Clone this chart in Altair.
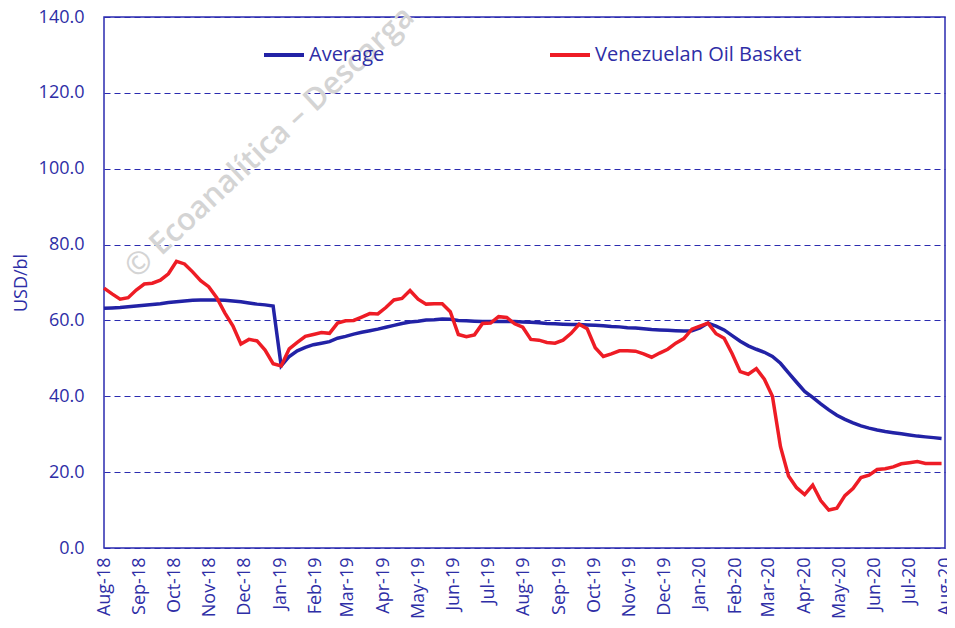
import altair as alt
import pandas as pd

# Weekly observations, Aug-2018 .. Jul-2020
weeks = pd.date_range("2018-08-01", periods=105, freq="7D").strftime("%Y-%m-%d").tolist()

average = [
    63.2, 63.3, 63.4, 63.6, 63.8, 64.0, 64.2, 64.4, 64.7, 64.9, 65.1, 65.3, 65.4, 65.4,
    65.4, 65.3, 65.1, 64.9, 64.6, 64.3, 64.1, 63.8, 48.0, 50.5, 52.0, 52.9, 53.6, 54.0,
    54.4, 55.3, 55.8, 56.4, 56.9, 57.3, 57.7, 58.2, 58.7, 59.2, 59.6, 59.8, 60.1, 60.2,
    60.4, 60.3, 60.0, 59.9, 59.8, 59.7, 59.7, 59.7, 59.7, 59.7, 59.6, 59.5, 59.4, 59.2,
    59.1, 59.0, 58.9, 58.9, 58.8, 58.7, 58.6, 58.4, 58.3, 58.1, 58.0, 57.8, 57.6, 57.5,
    57.4, 57.3, 57.2, 57.3, 58.0, 59.3, 58.5, 57.5, 56.0, 54.5, 53.3, 52.4, 51.6, 50.5,
    48.7, 46.2, 43.7, 41.3, 39.7, 38.0, 36.4, 35.0, 33.9, 33.0, 32.2, 31.6, 31.1, 30.7,
    30.4, 30.1, 29.8, 29.5, 29.3, 29.1, 28.9,
]

basket = [
    68.5, 67.0, 65.6, 66.0, 68.0, 69.6, 69.8, 70.6, 72.3, 75.6, 74.9, 72.8, 70.5, 68.9,
    66.0, 62.0, 58.6, 53.8, 55.0, 54.6, 52.2, 48.6, 48.0, 52.5, 54.2, 55.8, 56.3,
    56.8, 56.6, 59.3, 59.9, 60.0, 60.9, 61.8, 61.7, 63.4, 65.4, 65.8, 67.9, 65.6, 64.3,
    64.4, 64.4, 62.3, 56.3, 55.7, 56.2, 59.2, 59.3, 61.0, 60.8, 59.1, 58.2,
    55.0, 54.8, 54.2, 54.0, 54.8, 56.6, 59.0, 57.8, 52.8, 50.5, 51.2, 52.0, 52.0, 51.9,
    51.2, 50.3, 51.4, 52.4, 54.0, 55.2, 57.7, 58.5, 59.3, 56.5, 55.3, 51.2,
    46.5, 45.8, 47.3, 44.5, 40.0, 26.7, 19.0, 15.9, 14.1, 16.6, 12.5, 10.0, 10.5, 13.8,
    15.7, 18.6, 19.2, 20.7, 20.9, 21.4, 22.2, 22.5, 22.8, 22.3, 22.3, 22.3,
]

series_names = ["Average", "Venezuelan Oil Basket"]
series_colors = ["#2222A6", "#EE1C25"]
y_ticks = [0, 20, 40, 60, 80, 100, 120, 140]
month_starts = pd.date_range("2018-08-01", "2020-08-01", freq="MS")

watermark_text = ["© Ecoanalítica – Descarga"]
watermark_date = ["2018-08-24"]
watermark_value = [72.5]

TEXT = "#2E2EA6"
FONT = "Open Sans"

df = pd.DataFrame({
    "date": weeks + weeks,
    "value": average + basket,
    "series": [series_names[0]] * len(weeks) + [series_names[1]] * len(weeks),
})

wm = pd.DataFrame({"date": watermark_date, "value": watermark_value, "label": watermark_text})

tick_values = [alt.DateTime(year=int(d.year), month=int(d.month), date=1, utc=True) for d in month_starts]

x_enc = alt.X(
    "date:T",
    scale=alt.Scale(
        type="utc",
        domain=[alt.DateTime(year=2018, month=8, date=1, utc=True),
                alt.DateTime(year=2020, month=8, date=1, utc=True)],
    ),
    axis=alt.Axis(
        values=tick_values, format="%b-%y", labelAngle=-90, grid=False, ticks=False,
        domain=False, labelPadding=9, labelFontSize=18, labelColor=TEXT, title=None,
        labelFont=FONT, labelOverlap=False, labelBound=False, labelFlush=False,
    ),
)

y_enc = alt.Y(
    "value:Q",
    scale=alt.Scale(domain=[0, 140], nice=False, zero=True),
    axis=alt.Axis(
        values=y_ticks, format=".1f", grid=True, gridDash=[6, 4], gridColor="#2B2BB0",
        gridWidth=1.2, ticks=False, domain=False, labelPadding=20, labelFontSize=18,
        labelColor=TEXT, labelFont=FONT, title="USD/bl", titleColor=TEXT,
        titleFontSize=18, titleFontWeight="normal", titleFont=FONT, titlePadding=8,
    ),
)

watermark = alt.Chart(wm).mark_text(
    angle=317, align="left", baseline="middle", fontSize=31, fontWeight=600,
    color="#D4D4D4", font=FONT,
).encode(x=x_enc, y=y_enc, text="label:N")

lines = alt.Chart(df).mark_line(strokeWidth=3.5).encode(
    x=x_enc,
    y=y_enc,
    color=alt.Color(
        "series:N",
        scale=alt.Scale(domain=series_names, range=series_colors),
        legend=alt.Legend(
            title=None, orient="none", legendX=158, legendY=16, direction="horizontal",
            symbolType="stroke", symbolSize=1600, symbolStrokeWidth=4, labelFontSize=20,
            labelColor=TEXT, labelFont=FONT, labelOffset=3, columnPadding=157,
            padding=0, labelLimit=0,
        ),
    ),
)

chart = alt.layer(watermark, lines).properties(
    width=841,
    height=531,
    padding={"left": 96, "top": 9, "right": 2, "bottom": 72},
    autosize=alt.AutoSizeParams(type="none"),
    background="white",
).configure_view(stroke="#2B2BB0", strokeWidth=1.5).configure_axis(labelOverlap=False)

chart.save("out.html", embed_options={"renderer": "svg", "actions": False})
